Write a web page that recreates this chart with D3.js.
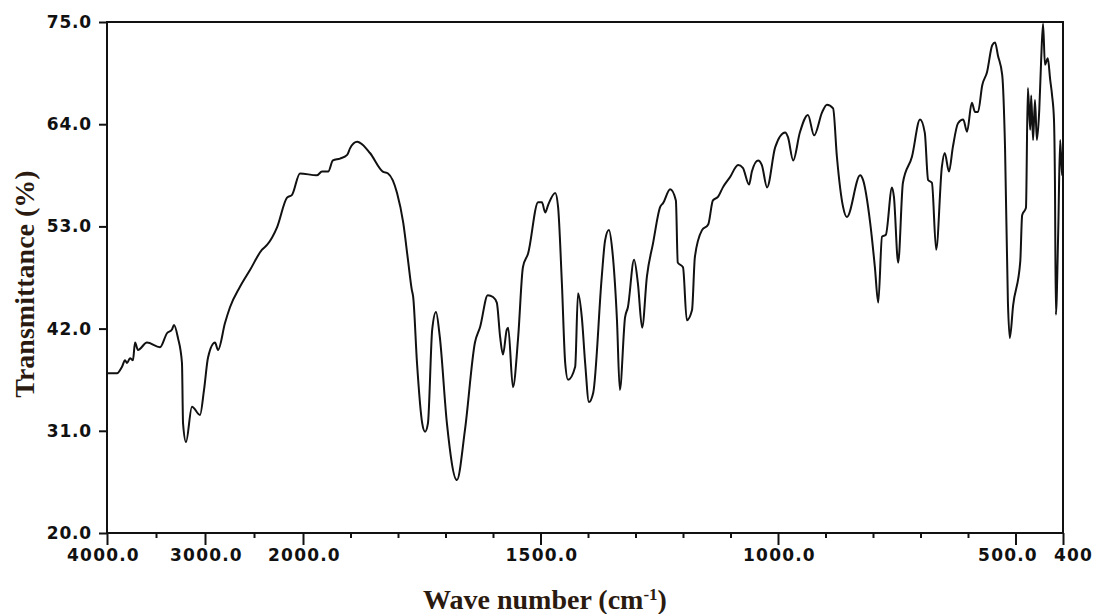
<!DOCTYPE html>
<html>
<head>
<meta charset="utf-8">
<script src="https://cdn.jsdelivr.net/npm/d3@7"></script>
<style>
  body { margin: 0; background: #fff; }
  svg { display: block; }
</style>
</head>
<body>
<div id="chart"></div>
<script>
// spectrum: wave number (cm-1) and transmittance (%)
var waveNumber = [4000, 3898, 3847, 3816, 3796, 3765, 3735, 3714, 3684, 3592,
  3459, 3388, 3337, 3316, 3276, 3235, 3224, 3194, 3133, 3051,
  3010, 2969, 2898, 2867, 2796, 2745, 2643, 2541, 2418, 2367,
  2265, 2163, 2112, 2031,
  1971, 1960, 1947, 1937, 1922, 1907, 1901, 1886, 1880, 1859,
  1832, 1821, 1802, 1789, 1779, 1771, 1768, 1760, 1749, 1743,
  1737, 1728, 1720, 1712, 1697, 1676, 1659, 1638, 1627, 1611,
  1600, 1592, 1585, 1579, 1571, 1568, 1558, 1547, 1537, 1526,
  1505, 1497, 1490, 1484, 1469, 1463, 1455, 1448, 1442, 1427,
  1421, 1413, 1406, 1398, 1389, 1371, 1364, 1356, 1349, 1339,
  1333, 1322, 1316, 1303, 1295, 1286, 1276, 1263, 1248, 1242,
  1227, 1215, 1211, 1200, 1192, 1181, 1175, 1160, 1147, 1137,
  1126, 1116, 1101, 1084, 1074, 1061, 1055, 1042, 1034, 1023,
  1006, 985, 979, 968, 954, 937, 924, 907, 897, 884,
  876, 863, 855, 827, 821, 806, 796, 789, 781, 773,
  760, 756, 747, 737, 718, 701, 691, 684, 676, 667,
  655, 649, 640, 632, 621, 610, 602, 592, 585, 579,
  570, 560, 549, 543, 537, 528, 522, 516, 512, 505,
  490, 486, 478, 474, 469, 467, 463, 459, 455, 450,
  446, 442, 438, 432, 427, 423, 419, 417, 415, 410,
  406, 402, 400];

var transmittance = [37.2, 37.2, 37.9, 38.6, 38.3, 38.8, 38.6, 40.5, 39.7, 40.5,
  40.0, 41.5, 41.9, 42.4, 41.0, 38.3, 31.8, 29.8, 33.6, 32.7,
  35.4, 38.9, 40.5, 39.7, 42.6, 44.3, 46.5, 48.3, 50.5, 51.0,
  52.9, 56.1, 56.4, 58.7,
  58.5, 58.9, 58.9, 60.1, 60.3, 60.7, 61.4, 62.1, 62.0, 60.9,
  58.9, 58.7, 56.6, 53.4, 49.4, 46.2, 45.4, 38.3, 31.8, 30.9,
  31.8, 41.9, 43.8, 41.1, 31.8, 25.7, 31.1, 40.5, 42.2, 45.6,
  45.4, 44.8, 41.1, 39.2, 41.9, 42.1, 35.7, 41.1, 48.6, 50.1,
  55.6, 55.6, 54.5, 55.3, 56.6, 55.1, 46.9, 38.3, 36.5, 37.9,
  45.8, 43.2, 38.3, 34.1, 35.1, 47.6, 51.5, 52.6, 50.5, 42.9,
  35.4, 43.2, 44.3, 49.4, 46.9, 42.1, 47.6, 51.2, 55.1, 55.5,
  57.0, 55.8, 49.1, 48.6, 42.9, 44.0, 49.7, 52.6, 53.2, 55.8,
  56.2, 57.2, 58.3, 59.6, 59.3, 57.5, 58.9, 60.1, 59.6, 57.2,
  61.5, 63.1, 62.6, 60.1, 63.1, 65.0, 62.8, 65.3, 66.1, 65.7,
  60.5, 55.1, 54.0, 58.5, 58.0, 53.4, 48.6, 44.8, 51.9, 52.1,
  57.2, 56.2, 49.1, 57.7, 60.5, 64.5, 63.1, 58.0, 57.7, 50.5,
  59.4, 60.9, 58.9, 61.5, 64.1, 64.5, 63.2, 66.3, 65.3, 65.3,
  68.2, 69.6, 72.5, 72.8, 71.4, 69.3, 61.4, 44.9, 41.0, 44.5,
  49.2, 54.2, 55.0, 67.9, 63.4, 67.1, 62.3, 66.6, 62.3, 65.5,
  70.9, 74.8, 70.4, 71.1, 68.8, 67.1, 64.5, 58.0, 43.5, 52.6,
  62.3, 58.5, 61.2];

// axis ticks and their labels
var xTicks = [4000, 3000, 2000, 1500, 1000, 500, 400];
var xTickLabels = ["4000.0", "3000.0", "2000.0", "1500.0", "1000.0", "500.0", "400"];
var xMinorTicks = [3500, 2500, 1900, 1800, 1700, 1600, 1400, 1300, 1200, 1100, 900, 800, 700, 600];
var yTicks = [20, 31, 42, 53, 64, 75];
var yTickLabels = ["20.0", "31.0", "42.0", "53.0", "64.0", "75.0"];

var data = waveNumber.map((w, i) => ({ wn: w, t: transmittance[i] }));

var width = 1093, height = 614;
var plot = { left: 107, right: 1063, top: 22, bottom: 533 };

var svg = d3.select("#chart")
  .append("svg")
    .attr("width", width)
    .attr("height", height);

svg.append("rect")
  .attr("width", width)
  .attr("height", height)
  .attr("fill", "#fff");

// the spectrometer changes scale at 2000 cm-1
var x = d3.scaleLinear()
  .domain([4000, 2000, 400])
  .range([plot.left, plot.left + 196, plot.right]);

var y = d3.scaleLinear()
  .domain([20, 75])
  .range([plot.bottom, plot.top]);

var tickFont = "'DejaVu Sans', sans-serif";

// minor ticks on the bottom
svg.append("g")
  .attr("transform", "translate(0," + plot.bottom + ")")
  .call(d3.axisBottom(x).tickValues(xMinorTicks).tickSizeInner(5).tickSizeOuter(0).tickFormat(""))
  .call(g => g.select(".domain").remove())
  .call(g => g.selectAll("line").attr("stroke", "#111").attr("stroke-width", 2));

// major ticks with labels, the last two pushed apart like in the print
function labelShift(d) {
  if (d === 4000) return -4;
  if (d === 500) return -8;
  if (d === 400) return 10;
  return 1;
}

svg.append("g")
  .attr("transform", "translate(0," + plot.bottom + ")")
  .call(d3.axisBottom(x)
    .tickValues(xTicks)
    .tickSizeInner(12)
    .tickSizeOuter(0)
    .tickPadding(4)
    .tickFormat((d, i) => xTickLabels[i]))
  .call(g => g.select(".domain").remove())
  .call(g => g.selectAll("line").attr("stroke", "#111").attr("stroke-width", 2))
  .call(g => g.selectAll("text")
    .attr("dx", d => labelShift(d))
    .attr("fill", "#111")
    .style("font-family", tickFont)
    .style("font-weight", "bold")
    .style("font-size", "17px")
    .style("letter-spacing", "1.2px"));

// left axis
svg.append("g")
  .attr("transform", "translate(" + plot.left + ",0)")
  .call(d3.axisLeft(y)
    .tickValues(yTicks)
    .tickSizeInner(8)
    .tickSizeOuter(0)
    .tickPadding(7)
    .tickFormat((d, i) => yTickLabels[i]))
  .call(g => g.select(".domain").remove())
  .call(g => g.selectAll("line").attr("stroke", "#111").attr("stroke-width", 2))
  .call(g => g.selectAll("text")
    .attr("fill", "#111")
    .style("font-family", tickFont)
    .style("font-weight", "bold")
    .style("font-size", "17px")
    .style("letter-spacing", "0.8px"));

// plot frame
svg.append("rect")
  .attr("x", plot.left)
  .attr("y", plot.top)
  .attr("width", plot.right - plot.left)
  .attr("height", plot.bottom - plot.top)
  .attr("fill", "none")
  .attr("stroke", "#111")
  .attr("stroke-width", 2);

// the spectrum
var line = d3.line()
  .x(d => x(d.wn))
  .y(d => y(d.t))
  .curve(d3.curveMonotoneX);

svg.append("path")
  .datum(data)
  .attr("d", line)
  .attr("fill", "none")
  .attr("stroke", "#111")
  .attr("stroke-width", 2)
  .attr("stroke-linejoin", "round")
  .attr("stroke-linecap", "round");

// axis titles
var titleColor = "#2a1a10";

svg.append("text")
  .attr("transform", "translate(34,284) rotate(-90)")
  .attr("text-anchor", "middle")
  .attr("fill", titleColor)
  .style("font-family", "'Liberation Serif', 'Times New Roman', serif")
  .style("font-weight", "bold")
  .style("font-size", "28px")
  .text("Transmittance (%)");

var xTitle = svg.append("text")
  .attr("x", 545)
  .attr("y", 609)
  .attr("text-anchor", "middle")
  .attr("fill", titleColor)
  .style("font-family", "'Liberation Serif', 'Times New Roman', serif")
  .style("font-weight", "bold")
  .style("font-size", "28px");

xTitle.append("tspan").text("Wave number (cm");
xTitle.append("tspan")
  .attr("baseline-shift", "super")
  .style("font-size", "17px")
  .text("-1");
xTitle.append("tspan").text(")");
</script>
</body>
</html>
